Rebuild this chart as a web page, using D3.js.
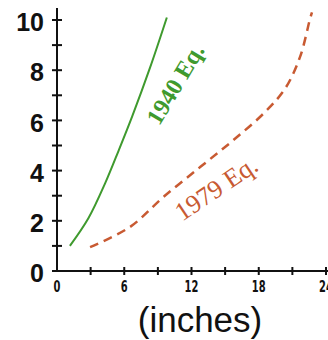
<!DOCTYPE html>
<html>
<head>
<meta charset="utf-8">
<script src="https://cdn.jsdelivr.net/npm/d3@7"></script>
<style>
  body { margin: 0; background: #fff; }
  svg { display: block; }
</style>
</head>
<body>
<div id="chart"></div>
<script>
// values
var xTicks = [0, 3, 6, 9, 12, 15, 18, 21, 24];
var xLabels = [0, 6, 12, 18, 24];
var yTicks = [0, 1, 2, 3, 4, 5, 6, 7, 8, 9, 10];
var yLabels = [0, 2, 4, 6, 8, 10];

var eq1940X = [1.15, 2.8, 4.3, 5.5, 6.7, 8.3, 9.8];
var eq1940Y = [1.0, 2.1, 3.5, 4.8, 6.15, 8.1, 10.1];

var eq1979X = [2.95, 6.5, 9.5, 12.8, 15.7, 18.6, 20.4, 21.7, 22.55, 22.75];
var eq1979Y = [0.95, 1.75, 2.95, 4.15, 5.2, 6.35, 7.3, 8.55, 10.0, 10.3];

var width = 328, height = 340;

var svg = d3.select('#chart').append('svg')
  .attr('width', width)
  .attr('height', height);

var x = d3.scaleLinear().domain([0, 24]).range([57, 326]);
var y = d3.scaleLinear().domain([0, 10]).range([271, 20]);

// axis lines
svg.append('line')
  .attr('x1', x(0)).attr('x2', width)
  .attr('y1', y(0)).attr('y2', y(0))
  .attr('stroke', '#111').attr('stroke-width', 2);
svg.append('line')
  .attr('x1', x(0)).attr('x2', x(0))
  .attr('y1', y(0) + 1).attr('y2', 8)
  .attr('stroke', '#111').attr('stroke-width', 2);

// ticks cross the axis
svg.selectAll('.ytick').data(yTicks).enter().append('line')
  .attr('class', 'ytick')
  .attr('x1', x(0) - 5).attr('x2', x(0) + 5)
  .attr('y1', function(d) { return y(d); })
  .attr('y2', function(d) { return y(d); })
  .attr('stroke', '#111').attr('stroke-width', 2);

svg.selectAll('.xtick').data(xTicks.slice(1)).enter().append('line')
  .attr('class', 'xtick')
  .attr('x1', function(d) { return x(d); })
  .attr('x2', function(d) { return x(d); })
  .attr('y1', y(0) - 4).attr('y2', y(0) + 4)
  .attr('stroke', '#111').attr('stroke-width', 2);

svg.selectAll('.ylab').data(yLabels).enter().append('text')
  .attr('class', 'ylab')
  .attr('x', 44)
  .attr('y', function(d) { return y(d); })
  .attr('dy', '0.45em')
  .attr('text-anchor', 'end')
  .style('font-family', 'Liberation Sans, Arial, sans-serif')
  .style('font-weight', 'bold')
  .style('font-size', '25px')
  .attr('fill', '#111')
  .text(function(d) { return d; });

svg.selectAll('.xlab').data(xLabels).enter().append('text')
  .attr('class', 'xlab')
  .attr('transform', function(d) { return 'translate(' + x(d) + ',292) scale(0.62,1)'; })
  .attr('text-anchor', 'middle')
  .style('font-family', 'DejaVu Sans, sans-serif')
  .style('font-weight', 'bold')
  .style('font-size', '16px')
  .attr('fill', '#111')
  .text(function(d) { return d; });

svg.append('text')
  .attr('x', 200).attr('y', 332)
  .attr('text-anchor', 'middle')
  .style('font-family', 'Liberation Sans, Arial, sans-serif')
  .style('font-size', '35px')
  .attr('fill', '#111')
  .text('(inches)');

var line = d3.line()
  .x(function(d) { return x(d[0]); })
  .y(function(d) { return y(d[1]); })
  .curve(d3.curveCatmullRom);

svg.append('path')
  .datum(d3.zip(eq1940X, eq1940Y))
  .attr('d', line)
  .attr('fill', 'none')
  .attr('stroke', '#3f9a2e')
  .attr('stroke-width', 2);

svg.append('path')
  .datum(d3.zip(eq1979X, eq1979Y))
  .attr('d', line)
  .attr('fill', 'none')
  .attr('stroke', '#c85a32')
  .attr('stroke-width', 2.5)
  .attr('stroke-dasharray', '9,6');

svg.append('text')
  .attr('transform', 'translate(175,84) rotate(-59)')
  .attr('text-anchor', 'middle')
  .attr('dy', '0.35em')
  .style('font-family', 'Liberation Serif, Times New Roman, serif')
  .style('font-weight', 'bold')
  .style('font-size', '24px')
  .attr('fill', '#3f9a2e')
  .text('1940 Eq.');

svg.append('text')
  .attr('transform', 'translate(216,188) rotate(-34)')
  .attr('text-anchor', 'middle')
  .attr('dy', '0.35em')
  .style('font-family', 'Liberation Serif, Times New Roman, serif')
  .style('font-size', '26px')
  .attr('fill', '#c85a32')
  .text('1979 Eq.');
</script>
</body>
</html>
